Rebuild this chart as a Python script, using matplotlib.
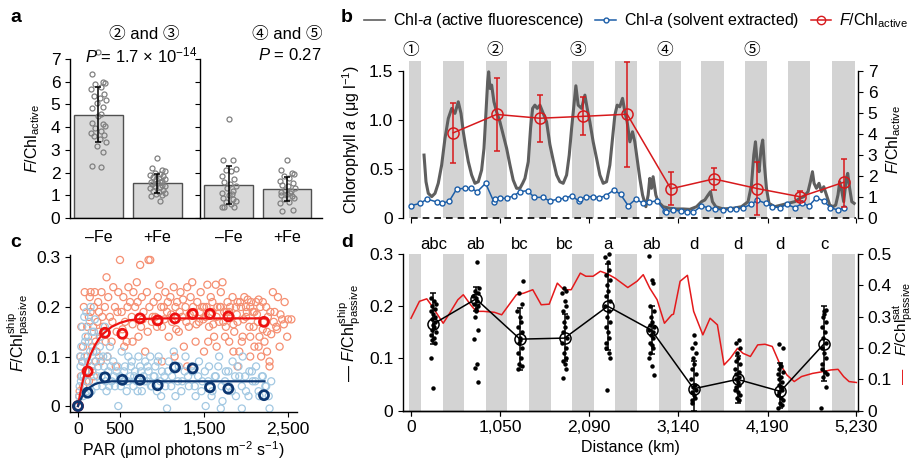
import numpy as np
import matplotlib
matplotlib.use('Agg')
import matplotlib.pyplot as plt
from matplotlib.lines import Line2D

# ---------------- Style ----------------
plt.rcParams['font.family'] = ['Liberation Sans', 'Noto Sans CJK JP', 'DejaVu Sans']
plt.rcParams['mathtext.fontset'] = 'custom'
plt.rcParams['mathtext.rm'] = 'Liberation Sans'
plt.rcParams['mathtext.it'] = 'Liberation Sans:italic'
plt.rcParams['mathtext.bf'] = 'Liberation Sans:bold'
plt.rcParams['font.size'] = 11
plt.rcParams['axes.linewidth'] = 1.0
plt.rcParams['xtick.major.size'] = 3.5
plt.rcParams['ytick.major.size'] = 3.5
TICK = 12.5
LAB = 11.5

# ---------------- Data: panel a ----------------
a_labels = ['\u2013Fe', '+Fe']
a_mean_23 = [4.55, 1.53]
a_lo_23 = [3.35, 1.10]
a_hi_23 = [5.78, 1.95]
a_mean_45 = [1.45, 1.27]
a_lo_45 = [0.63, 0.75]
a_hi_45 = [2.28, 1.80]
a_pts_23_minus = [7.3, 6.35, 6.0, 5.95, 5.9, 5.75, 5.7, 5.45, 5.35, 5.3, 5.2, 5.05, 4.9, 4.85, 4.6,
                  4.5, 4.2, 4.15, 4.05, 3.95, 3.85, 3.75, 3.65, 3.6, 3.5, 3.35, 3.15, 2.9, 2.3, 2.25]
a_pts_23_plus = [2.65, 2.2, 2.1, 2.05, 2.0, 1.95, 1.9, 1.85, 1.8, 1.75, 1.72, 1.7, 1.65, 1.6, 1.58,
                 1.55, 1.5, 1.45, 1.42, 1.4, 1.35, 1.3, 1.25, 1.2, 1.15, 1.1, 1.05, 1.0, 0.95, 0.75]
a_pts_45_minus = [4.38, 2.55, 2.55, 2.15, 2.1, 2.05, 1.85, 1.7, 1.6, 1.5, 1.4, 1.3, 1.2, 1.1, 1.05,
                  1.0, 0.9, 0.85, 0.75, 0.7, 0.6, 0.5, 0.5, 0.48]
a_pts_45_plus = [2.55, 2.1, 2.0, 1.95, 1.85, 1.75, 1.65, 1.55, 1.45, 1.4, 1.3, 1.25, 1.2, 1.15, 1.1,
                 1.05, 1.0, 0.95, 0.9, 0.85, 0.7, 0.65, 0.35, 0.3]
a_jitter = [0.0, -0.1, 0.08, 0.12, -0.05, 0.04, -0.12, 0.1, -0.08, 0.02, 0.13, -0.03, 0.07, -0.11, 0.05]

# ---------------- Data: panel b ----------------
band_start = [-23, 372, 880, 1388, 1893, 2397, 2907, 3411, 3923, 4427, 4944]
band_end = [114, 622, 1130, 1639, 2147, 2655, 3165, 3673, 4186, 4690, 5210]
dist_ticks = [0, 1050, 2090, 3140, 4190, 5230]
dist_ticklabels = ['0', '1,050', '2,090', '3,140', '4,190', '5,230']
station_x = [0, 986, 1960, 2981, 4001]
station_lbl = ['\u2460', '\u2461', '\u2462', '\u2463', '\u2464']

chl_fl_km = [153, 176, 203, 243, 282, 320, 360, 399, 438, 478, 516, 555, 587, 614, 645, 673, 712, 751,
             790, 829, 857, 880, 900, 912, 927, 947, 974, 1005, 1044, 1083, 1123, 1162, 1200, 1240,
             1279, 1311, 1338, 1377, 1404, 1428, 1455, 1482, 1514, 1553, 1592, 1631, 1670, 1710, 1748,
             1787, 1827, 1858, 1886, 1913, 1936, 1963, 2003, 2042, 2069, 2100, 2139, 2179, 2218, 2257,
             2296, 2335, 2367, 2394, 2421, 2452, 2484, 2511, 2538, 2570, 2601, 2628, 2655, 2687, 2719,
             2758, 2785, 2804, 2824, 2843, 2875, 2902, 2961, 3039, 3118, 3196, 3274, 3353, 3411, 3450,
             3489, 3517, 3540, 3579, 3665, 3782, 3881, 3958, 3998, 4025, 4045, 4064, 4087, 4111, 4130,
             4150, 4174, 4204, 4271, 4350, 4427, 4506, 4565, 4612, 4662, 4690, 4714, 4733, 4761, 4791,
             4820, 4847, 4878, 4917, 4956, 4987, 5014, 5034, 5053, 5081, 5112, 5128, 5151, 5176, 5204]
chl_fl_val = [0.643, 0.372, 0.254, 0.22, 0.254, 0.356, 0.542, 0.813, 1.016, 1.118, 1.067, 1.185,
              1.067, 0.88, 0.711, 0.575, 0.44, 0.356, 0.372, 0.49, 0.711, 1.083, 1.388, 1.49, 1.321,
              1.355, 1.185, 1.083, 0.982, 0.847, 0.711, 0.542, 0.389, 0.305, 0.305, 0.356, 0.406,
              0.575, 0.915, 1.118, 1.151, 1.118, 1.151, 1.067, 0.982, 0.75, 0.59, 0.44, 0.372, 0.356,
              0.44, 0.643, 0.915, 1.151, 1.348, 1.151, 1.118, 1.253, 1.118, 0.982, 0.778, 0.61, 0.44,
              0.356, 0.372, 0.542, 0.813, 1.05, 1.151, 1.134, 1.22, 1.083, 0.982, 0.778, 0.88, 0.778,
              0.61, 0.406, 0.237, 0.118, 0.237, 0.406, 0.305, 0.423, 0.237, 0.169, 0.118, 0.102, 0.095,
              0.095, 0.091, 0.118, 0.169, 0.186, 0.237, 0.271, 0.169, 0.118, 0.095, 0.102, 0.118,
              0.169, 0.338, 0.643, 0.778, 0.575, 0.474, 0.711, 0.796, 0.542, 0.305, 0.152, 0.118,
              0.135, 0.152, 0.169, 0.203, 0.22, 0.271, 0.372, 0.474, 0.356, 0.305, 0.356, 0.271, 0.321,
              0.237, 0.135, 0.118, 0.135, 0.237, 0.372, 0.305, 0.169, 0.406, 0.457, 0.305, 0.169, 0.152]

chl_ex_km = [-4, 106, 191, 301, 368, 450, 536, 634, 704, 778, 876, 974, 982, 1044, 1123, 1209, 1279,
             1369, 1447, 1545, 1631, 1729, 1807, 1886, 1971, 1983, 2054, 2132, 2210, 2288, 2382, 2461,
             2550, 2640, 2726, 2796, 2890, 2981, 2992, 3078, 3165, 3242, 3313, 3411, 3489, 3568, 3665,
             3743, 3822, 3900, 3998, 4064, 4166, 4244, 4330, 4416, 4506, 4596, 4674, 4761, 4846, 4925,
             5014, 5081]
chl_ex_val = [0.128, 0.152, 0.196, 0.166, 0.152, 0.176, 0.298, 0.305, 0.305, 0.271, 0.356, 0.166,
              0.196, 0.203, 0.203, 0.23, 0.271, 0.281, 0.213, 0.213, 0.176, 0.196, 0.203, 0.23, 0.176,
              0.193, 0.22, 0.22, 0.209, 0.23, 0.288, 0.244, 0.128, 0.196, 0.152, 0.163, 0.179, 0.074,
              0.061, 0.084, 0.074, 0.067, 0.061, 0.125, 0.108, 0.095, 0.084, 0.091, 0.091, 0.108, 0.142,
              0.186, 0.152, 0.118, 0.108, 0.142, 0.108, 0.152, 0.128, 0.209, 0.176, 0.108, 0.084, 0.108]

fchl_km = [497, 1005, 1514, 2022, 2538, 3051, 3556, 4068, 4573, 5081]
fchl_val = [4.06, 4.93, 4.75, 4.84, 4.94, 1.40, 1.87, 1.41, 1.02, 1.71]
fchl_hi = [5.49, 6.66, 5.83, 5.74, 7.44, 2.18, 2.40, 2.66, 1.30, 2.80]
fchl_lo = [2.63, 3.20, 3.62, 3.95, 2.44, 0.65, 1.33, 0.16, 0.81, 0.55]

# ---------------- Data: panel c ----------------
c_or_par = [20, 35, 50, 60, 40, 70, 80, 100, 110, 120, 130, 140, 150, 160, 170, 180, 190, 200, 210,
            220, 230, 240, 250, 260, 270, 90, 60, 30, 15, 280,
            300, 320, 340, 360, 380, 400, 420, 440, 460, 480, 500, 520, 540, 560, 580, 600, 620, 640,
            660, 680, 700, 720, 740, 760, 780, 800, 820, 840, 860, 880, 900, 350, 450, 550, 650, 750,
            850, 330,
            920, 950, 970, 1000, 1020, 1040, 1060, 1080, 1100, 1120, 1140, 1160, 1180, 1200, 1220, 1240,
            1260, 1280, 1300, 1320, 1340, 1360, 1380, 1400, 1420, 1440, 1460, 1480, 1500, 1520, 1540,
            1560, 1580, 1600, 1620, 1640, 1660, 1680, 1000, 1150, 1300,
            1700, 1720, 1740, 1760, 1780, 1800, 1820, 1840, 1860, 1880, 1900, 1920, 1940, 1960, 1980,
            2000, 2020, 2040, 2060, 2080, 2100, 2120, 2140, 2160, 2180, 2200, 2220, 2240, 2260, 2280,
            2300, 2320, 2340, 2360, 2380, 2400, 2430, 2460, 2500, 2540, 2150, 2050, 1900, 2280]
c_or_val = [0.03, 0.06, 0.09, 0.12, 0.16, 0.2, 0.23, 0.05, 0.1, 0.14, 0.18, 0.22, 0.23, 0.08, 0.12,
            0.16, 0.2, 0.23, 0.13, 0.11, 0.17, 0.21, 0.19, 0.14, 0.09, 0.07, 0.04, 0.1, 0.02, 0.23,
            0.16, 0.2, 0.26, 0.22, 0.18, 0.13, 0.24, 0.2, 0.15, 0.23, 0.295, 0.19, 0.22, 0.17, 0.13,
            0.24, 0.21, 0.18, 0.23, 0.2, 0.25, 0.14, 0.285, 0.22, 0.19, 0.11, 0.23, 0.295, 0.295, 0.17,
            0.21, 0.1, 0.08, 0.12, 0.13, 0.16, 0.2, 0.13,
            0.18, 0.22, 0.245, 0.16, 0.2, 0.23, 0.19, 0.14, 0.22, 0.17, 0.24, 0.2, 0.21, 0.15, 0.23,
            0.18, 0.12, 0.2, 0.24, 0.16, 0.22, 0.25, 0.19, 0.13, 0.21, 0.17, 0.23, 0.2, 0.11, 0.18,
            0.245, 0.16, 0.22, 0.19, 0.14, 0.245, 0.2, 0.17, 0.09, 0.1, 0.08,
            0.23, 0.25, 0.19, 0.16, 0.21, 0.13, 0.18, 0.22, 0.15, 0.2, 0.17, 0.11, 0.2, 0.14, 0.22,
            0.18, 0.215, 0.16, 0.21, 0.19, 0.12, 0.21, 0.17, 0.14, 0.1, 0.155, 0.13, 0.2, 0.18, 0.09,
            0.145, 0.23, 0.19, 0.16, 0.22, 0.12, 0.175, 0.21, 0.175, 0.175, 0.215, 0.1, 0.08, 0.08]
c_or_par2 = [410, 470, 530, 590, 650, 710, 770, 830, 890, 940, 990, 1030, 1070, 1110, 1170, 1210, 1250,
             1290, 1330, 1370, 1410, 1450, 1490, 1530, 1570, 1610, 1650, 1690, 1730, 1770, 1810, 1850,
             1890, 1930, 1970, 2010, 2050, 2090, 2130, 2170, 2210, 2250, 2290, 2330, 2370, 2410, 2450,
             2490, 1550, 1650, 1750, 1850, 1950, 2050, 2150, 2250, 1500, 1600, 1700, 1800, 1900, 2000,
             2100, 2200, 130, 170, 210, 250, 290, 110, 150, 190]
c_or_val2 = [0.17, 0.19, 0.155, 0.2, 0.165, 0.21, 0.175, 0.15, 0.18, 0.16, 0.2, 0.175, 0.21, 0.185,
             0.155, 0.19, 0.215, 0.17, 0.185, 0.2, 0.165, 0.19, 0.175, 0.2, 0.185, 0.165, 0.18, 0.2,
             0.17, 0.19, 0.2, 0.165, 0.185, 0.21, 0.175, 0.19, 0.2, 0.16, 0.185, 0.2, 0.17, 0.15, 0.19,
             0.17, 0.155, 0.185, 0.165, 0.14, 0.13, 0.12, 0.14, 0.11, 0.13, 0.14, 0.12, 0.11, 0.2, 0.21,
             0.2, 0.19, 0.21, 0.2, 0.19, 0.21, 0.05, 0.07, 0.09, 0.15, 0.18, 0.16, 0.19, 0.06]
c_bl_par = [10, 20, 30, 40, 50, 60, 70, 80, 90, 100, 110, 120, 130, 140, 150, 160, 170, 180, 190, 200,
            220, 240, 260, 280, 300, 320, 340, 360, 380, 400, 25, 45, 75, 130,
            420, 440, 460, 480, 500, 520, 540, 560, 580, 600, 620, 640, 660, 680, 700, 720, 740, 760,
            780, 800, 820, 840, 860, 880, 900, 920, 940, 960, 980, 1000, 1040, 1080, 1120, 1160, 1200,
            1240, 1280, 1060, 1140,
            1320, 1360, 1400, 1440, 1480, 1520, 1560, 1600, 1640, 1680, 1720, 1760, 1800, 1840, 1880,
            1920, 1960, 2000, 2040, 2080, 2120, 2160, 2200, 2240, 2280, 2300, 1700, 1950]
c_bl_val = [0.0, 0.04, 0.08, 0.12, 0.16, 0.02, 0.06, 0.1, 0.14, 0.19, 0.05, 0.09, 0.13, 0.17, 0.2,
            0.03, 0.07, 0.11, 0.15, 0.175, 0.04, 0.08, 0.12, 0.06, 0.1, 0.16, 0.03, 0.07, 0.12, 0.05,
            0.1, 0.06, 0.18, 0.07,
            0.09, 0.04, 0.07, 0.0, 0.06, 0.11, 0.05, 0.08, 0.03, 0.1, 0.06, 0.09, 0.04, 0.07, 0.05, 0.1,
            0.08, 0.03, 0.06, 0.09, 0.05, 0.07, 0.1, 0.04, 0.06, 0.08, 0.03, 0.1, 0.05, 0.07, 0.04,
            0.09, 0.06, 0.02, 0.08, 0.05, 0.1, -0.005, 0.11,
            0.04, 0.07, 0.02, 0.09, 0.05, 0.0, 0.08, 0.03, 0.06, 0.1, 0.01, 0.07, 0.04, 0.09, 0.02,
            0.06, 0.1, 0.03, 0.07, 0.05, 0.08, 0.02, 0.06, 0.04, -0.005, 0.05, -0.005, -0.005]
c_bl_par2 = [15, 35, 55, 85, 105, 125, 145, 165, 185, 205, 230, 250, 270, 290, 310, 330, 350, 370, 390,
             430, 470, 510, 550, 590, 630, 670, 710, 750, 790, 830, 870, 910, 950, 990, 1030, 1070,
             1110, 1150, 1190, 1230, 1270, 1310, 1350, 1390, 1430, 1470, 1510, 1550, 1590, 1630, 1670,
             1710, 1750, 1790, 1830, 1870, 1910, 1950, 1990, 2030, 2070, 2110, 2150, 2190, 2230, 2270]
c_bl_val2 = [0.02, 0.05, 0.09, 0.13, 0.03, 0.07, 0.11, 0.15, 0.05, 0.09, 0.06, 0.1, 0.14, 0.04, 0.08,
             0.05, 0.1, 0.04, 0.08, 0.06, 0.08, 0.04, 0.07, 0.05, 0.08, 0.06, 0.03, 0.07, 0.05, 0.08,
             0.04, 0.06, 0.09, 0.02, 0.06, 0.07, 0.04, 0.08, 0.05, 0.03, 0.07, 0.06, 0.08, 0.04, 0.06,
             0.03, 0.07, 0.05, 0.02, 0.06, 0.08, 0.04, 0.05, 0.07, 0.03, 0.06, 0.08, 0.04, 0.06, 0.02,
             0.07, 0.05, 0.03, 0.06, 0.04, 0.02]
c_bin_par = [0, 115, 321, 528, 738, 948, 1155, 1365, 1571, 1790, 2214]
c_bin_red = [0.0, 0.070, 0.148, 0.146, 0.177, 0.173, 0.177, 0.186, 0.186, 0.181, 0.170]
c_bin_blue = [0.0, 0.027, 0.058, 0.053, 0.053, 0.042, 0.078, 0.076, 0.038, 0.035, 0.022]
c_fit_red_x = [0, 25, 50, 75, 100, 150, 200, 250, 300, 400, 500, 600, 700, 800, 1000, 2220]
c_fit_red_y = [0, 0.024, 0.045, 0.063, 0.079, 0.104, 0.122, 0.136, 0.146, 0.16, 0.168, 0.173, 0.175,
               0.176, 0.177, 0.177]
c_fit_blue_x = [0, 25, 50, 75, 100, 150, 200, 250, 300, 400, 500, 2220]
c_fit_blue_y = [0, 0.011, 0.02, 0.027, 0.032, 0.039, 0.044, 0.047, 0.048, 0.05, 0.05, 0.05]

# ---------------- Data: panel d ----------------
d_km = [262, 763, 1280, 1803, 2310, 2825, 3319, 3834, 4338, 4850]
d_mean = [0.166, 0.214, 0.137, 0.139, 0.200, 0.154, 0.042, 0.060, 0.037, 0.128]
d_hi = [0.225, 0.237, 0.196, 0.185, 0.281, 0.200, 0.095, 0.105, 0.091, 0.200]
d_lo = [0.128, 0.190, 0.077, 0.095, 0.116, 0.108, 0.0, 0.014, 0.006, 0.056]
d_letters = ['abc', 'ab', 'bc', 'bc', 'a', 'ab', 'd', 'd', 'd', 'c']
d_pts = [
    [0.215, 0.21, 0.205, 0.2, 0.195, 0.19, 0.185, 0.18, 0.175, 0.17, 0.165, 0.16, 0.155, 0.15, 0.145,
     0.14, 0.135, 0.13, 0.1, 0.043],
    [0.285, 0.235, 0.23, 0.225, 0.22, 0.215, 0.21, 0.205, 0.2, 0.195, 0.19, 0.18, 0.155, 0.138, 0.09,
     0.082, 0.055],
    [0.248, 0.225, 0.205, 0.19, 0.18, 0.17, 0.16, 0.15, 0.14, 0.135, 0.13, 0.12, 0.11, 0.1, 0.09,
     0.085, 0.08],
    [0.235, 0.23, 0.225, 0.21, 0.2, 0.19, 0.18, 0.17, 0.16, 0.15, 0.14, 0.13, 0.12, 0.11, 0.1, 0.095,
     0.09, 0.08, 0.063],
    [0.3, 0.295, 0.285, 0.27, 0.26, 0.25, 0.24, 0.23, 0.22, 0.21, 0.2, 0.19, 0.18, 0.17, 0.16, 0.15,
     0.14, 0.13, 0.12, 0.11, 0.1, 0.04],
    [0.297, 0.25, 0.245, 0.2, 0.19, 0.18, 0.17, 0.165, 0.16, 0.155, 0.15, 0.145, 0.14, 0.13, 0.125,
     0.12, 0.11, 0.1, 0.085, 0.068],
    [0.145, 0.13, 0.12, 0.11, 0.1, 0.09, 0.08, 0.07, 0.06, 0.05, 0.045, 0.04, 0.035, 0.03, 0.025, 0.02,
     0.015],
    [0.135, 0.13, 0.12, 0.11, 0.1, 0.095, 0.09, 0.08, 0.075, 0.07, 0.065, 0.06, 0.055, 0.05, 0.045,
     0.04, 0.035, 0.03, 0.025, 0.02],
    [0.127, 0.12, 0.09, 0.085, 0.08, 0.075, 0.07, 0.065, 0.06, 0.055, 0.05, 0.045, 0.04, 0.035, 0.03,
     0.025, 0.02, 0.015, 0.01, 0.005],
    [0.193, 0.19, 0.185, 0.18, 0.17, 0.16, 0.15, 0.14, 0.13, 0.12, 0.11, 0.1, 0.09, 0.08, 0.075, 0.07,
     0.065, 0.045, 0.005],
]
d_jitter = [-25, 10, 30, -10, 20, -30, 0, 15, -20, 25, -5, 5, -15, 28, -28, 12, -12, 22, -22, 2, 18, -18]
sat_km = [0, 99, 185, 249, 301, 378, 442, 550, 614, 700, 764, 850, 979, 1065, 1151, 1237, 1323, 1430,
          1529, 1623, 1718, 1795, 1881, 1988, 2053, 2138, 2224, 2310, 2396, 2546, 2654, 2727, 2804,
          2890, 2976, 3062, 3083, 3160, 3246, 3319, 3427, 3512, 3598, 3676, 3749, 3834, 3899, 3985,
          4071, 4157, 4242, 4328, 4414, 4500, 4586, 4715, 4844, 4929, 5015, 5080, 5144, 5230]
sat_val = [0.295, 0.349, 0.357, 0.333, 0.311, 0.279, 0.306, 0.354, 0.37, 0.338, 0.317, 0.317, 0.314,
           0.306, 0.338, 0.37, 0.375, 0.386, 0.338, 0.34, 0.407, 0.386, 0.386, 0.439, 0.429, 0.429,
           0.445, 0.436, 0.423, 0.393, 0.413, 0.434, 0.391, 0.354, 0.279, 0.306, 0.308, 0.413, 0.432,
           0.317, 0.242, 0.295, 0.274, 0.146, 0.167, 0.199, 0.183, 0.173, 0.21, 0.212, 0.205, 0.151,
           0.114, 0.093, 0.109, 0.119, 0.125, 0.13, 0.132, 0.109, 0.093, 0.09]

# ---------------- Colours ----------------
BAND = '#d3d3d3'
GRAY = '#5f5f5f'
BLUE = '#1c5ea8'
RED = '#d7191c'
SALMON = '#f58f72'
LBLUE = '#a2c8e2'
NAVY = '#0c3772'

W, H = 914, 461
fig = plt.figure(figsize=(W / 100, H / 100), dpi=100)


def px_axes(x0, x1, ytop, ybot):
    return fig.add_axes([x0 / W, 1 - ybot / H, (x1 - x0) / W, (ybot - ytop) / H])


F_ACT = r'$\mathit{F}$/Chl$_{\mathrm{active}}$'
F_SHIP = r'$\mathit{F}$/Chl$^{\mathrm{ship}}_{\mathrm{passive}}$'
F_SAT = r'$\mathit{F}$/Chl$^{\mathrm{sat}}_{\mathrm{passive}}$'
XMIN, XMAX = -94, 5249

# ---------------- Panel a ----------------
axa1 = px_axes(70, 200, 59, 218)
axa2 = px_axes(200, 322, 59, 218)
groups = [(axa1, a_mean_23, a_lo_23, a_hi_23, [a_pts_23_minus, a_pts_23_plus]),
          (axa2, a_mean_45, a_lo_45, a_hi_45, [a_pts_45_minus, a_pts_45_plus])]
for ax, mean, lo, hi, pts in groups:
    xs = np.arange(2)
    ax.bar(xs, mean, width=0.83, color='#d9d9d9', edgecolor='#505050', linewidth=1.0, zorder=1)
    for i, p in enumerate(pts):
        jx = [i + a_jitter[k % len(a_jitter)] for k in range(len(p))]
        ax.plot(jx, p, 'o', ms=3.6, mfc='none', mec='#808080', mew=0.9, zorder=2, clip_on=False)
    ax.errorbar(xs, mean, yerr=[np.array(mean) - np.array(lo), np.array(hi) - np.array(mean)],
                fmt='none', ecolor='black', elinewidth=1.1, capsize=2.2, capthick=1.1, zorder=3)
    ax.set_ylim(0, 7)
    ax.set_yticks(range(8))
    ax.set_xticks([])
    for s in ['top', 'right']:
        ax.spines[s].set_visible(False)
    ax.tick_params(axis='y', direction='out', labelsize=TICK)
    for i, lbl in enumerate(a_labels):
        ax.text(i, -0.55, lbl, ha='center', va='top', fontsize=LAB)
axa1.set_xlim(-0.48, 1.72)
axa2.set_xlim(-0.49, 1.6)
axa2.tick_params(axis='y', labelleft=False)
axa1.set_ylabel(F_ACT, fontsize=LAB, labelpad=6)
axa1.text(0.57, 1.155, '\u2461 and \u2462', transform=axa1.transAxes, ha='center', va='center', fontsize=12)
axa1.text(0.55, 1.025, r'$\mathit{P}$ = 1.7 × 10$^{-14}$', transform=axa1.transAxes, ha='center',
          va='center', fontsize=12)
axa2.text(1.0, 1.155, '\u2463 and \u2464', transform=axa2.transAxes, ha='right', va='center', fontsize=12)
axa2.text(1.0, 1.025, r'$\mathit{P}$ = 0.27', transform=axa2.transAxes, ha='right', va='center', fontsize=12)

# ---------------- Panel b ----------------
axb = px_axes(403, 858, 61, 218.3)
for s0, s1 in zip(band_start, band_end):
    axb.axvspan(s0, s1, color=BAND, lw=0, zorder=0)
axb.plot(chl_fl_km, chl_fl_val, color=GRAY, lw=2.2, zorder=2)
axb.plot(chl_ex_km, chl_ex_val, '-o', color=BLUE, lw=1.1, ms=3.6, mfc='white', mec=BLUE, mew=1.0, zorder=3)
axb.plot([dist_ticks[0], dist_ticks[-1]], [0, 0], color='black', lw=1.2, ls=(0, (4, 3)), zorder=4, clip_on=False)
axb.set_xlim(XMIN, XMAX)
axb.set_ylim(0, 1.6)
axb.set_yticks([0, 0.5, 1.0, 1.5])
axb.set_yticklabels(['0', '0.5', '1.0', '1.5'])
axb.set_xticks(dist_ticks)
axb.tick_params(axis='x', labelbottom=False)
axb.tick_params(axis='y', labelsize=TICK)
axb.spines['top'].set_visible(False)
axb.spines['bottom'].set_visible(False)
axb.spines['right'].set_visible(False)
axb.spines['left'].set_bounds(0, 1.5)
axb.set_ylabel(r'Chlorophyll $\mathit{a}$ (μg l$^{-1}$)', fontsize=LAB, labelpad=5)
for xs, lbl in zip(station_x, station_lbl):
    axb.text(xs, 1.065, lbl, transform=axb.get_xaxis_transform(), ha='center', va='center', fontsize=12)

axb2 = axb.twinx()
axb2.errorbar(fchl_km, fchl_val,
              yerr=[np.array(fchl_val) - np.array(fchl_lo), np.array(fchl_hi) - np.array(fchl_val)],
              fmt='-o', color=RED, lw=1.1, ms=8, mfc='none', mec=RED, mew=1.1, ecolor=RED,
              elinewidth=1.1, capsize=2.5, capthick=1.1, zorder=5)
axb2.set_ylim(0, 7.467)
axb2.set_yticks(range(8))
axb2.spines['top'].set_visible(False)
axb2.spines['bottom'].set_visible(False)
axb2.spines['left'].set_visible(False)
axb2.spines['right'].set_bounds(0, 7)
axb2.tick_params(axis='y', labelsize=TICK)
axb2.set_ylabel(F_ACT, fontsize=LAB, labelpad=5)

handles = [Line2D([], [], color=GRAY, lw=1.2),
           Line2D([], [], color=BLUE, lw=1.1, marker='o', ms=3.5, mfc='white', mec=BLUE),
           Line2D([], [], color=RED, lw=1.1, marker='o', ms=6, mfc='none', mec=RED)]
fig.legend(handles, [r'Chl-$\mathit{a}$ (active fluorescence)', r'Chl-$\mathit{a}$ (solvent extracted)', F_ACT],
           loc='center left', bbox_to_anchor=(364 / W, 1 - 21 / H), ncol=3, frameon=False,
           fontsize=LAB, handlelength=1.3, handletextpad=0.5, columnspacing=0.7, borderaxespad=0,
           borderpad=0)

# ---------------- Panel c ----------------
axc = px_axes(70, 297, 255, 412)
axc.scatter(c_or_par + c_or_par2, c_or_val + c_or_val2, s=26, facecolors='none', edgecolors=SALMON,
            linewidths=0.9, zorder=1)
axc.scatter(c_bl_par + c_bl_par2, c_bl_val + c_bl_val2, s=26, facecolors='none', edgecolors=LBLUE,
            linewidths=0.9, zorder=1)
axc.plot(c_fit_red_x, c_fit_red_y, color='#ee1111', lw=1.6, zorder=3)
axc.plot(c_fit_blue_x, c_fit_blue_y, color=NAVY, lw=1.6, zorder=3)
axc.scatter(c_bin_par, c_bin_red, s=42, facecolors='none', edgecolors='#ee1111', linewidths=2.0, zorder=4)
axc.scatter(c_bin_par, c_bin_blue, s=42, facecolors='none', edgecolors=NAVY, linewidths=2.0, zorder=4)
axc.set_xlim(-95, 2607)
axc.set_ylim(-0.012, 0.305)
axc.set_xticks([0, 500, 1500, 2500])
axc.set_xticklabels(['0', '500', '1,500', '2,500'])
axc.set_yticks([0, 0.1, 0.2, 0.3])
axc.set_yticklabels(['0', '0.1', '0.2', '0.3'])
axc.tick_params(labelsize=TICK)
axc.spines['top'].set_visible(False)
axc.spines['right'].set_visible(False)
axc.set_ylabel(F_SHIP, fontsize=LAB, labelpad=3)
axc.set_xlabel(r'PAR (μmol photons m$^{-2}$ s$^{-1}$)', fontsize=LAB, labelpad=2)

# ---------------- Panel d ----------------
axd2 = px_axes(403, 858, 254, 410.7)
axd = fig.add_axes(axd2.get_position(), sharex=axd2)
axd2.yaxis.tick_right()
for s0, s1 in zip(band_start, band_end):
    axd2.axvspan(s0, s1, color=BAND, lw=0, zorder=0)
axd2.plot(sat_km, sat_val, color='#e41a1c', lw=1.1, zorder=2)
axd2.set_ylim(0, 0.5)
axd2.set_yticks([0, 0.1, 0.2, 0.3, 0.4, 0.5])
axd2.set_yticklabels(['0', '0.1', '0.2', '0.3', '0.4', '0.5'])
axd2.tick_params(axis='y', labelsize=TICK)
axd2.tick_params(axis='x', labelbottom=False)
axd2.spines['top'].set_visible(False)
axd2.spines['left'].set_visible(False)
axd2.text(1.1, 0.585, F_SAT, transform=axd2.transAxes, rotation=90, ha='center', va='center', fontsize=11)
fig.text(903.5 / W, 1 - 376 / H, '\u2014', rotation=90, ha='center', va='center', fontsize=11, color='#e41a1c')

axd.patch.set_visible(False)
for i, (xk, p) in enumerate(zip(d_km, d_pts)):
    jx = [xk + d_jitter[(k + i) % len(d_jitter)] for k in range(len(p))]
    axd.plot(jx, p, 'o', ms=2.2, color='black', zorder=2, clip_on=False)
axd.errorbar(d_km, d_mean, yerr=[np.array(d_mean) - np.array(d_lo), np.array(d_hi) - np.array(d_mean)],
             fmt='-o', color='black', lw=1.1, ms=8, mfc='none', mec='black', mew=1.1, ecolor='black',
             elinewidth=1.1, capsize=2.5, capthick=1.1, zorder=3)
for xk, lt in zip(d_km, d_letters):
    axd.text(xk, 1.015, lt, transform=axd.get_xaxis_transform(), ha='center', va='bottom', fontsize=12)
axd.set_xlim(XMIN, XMAX)
axd.set_ylim(0, 0.3)
axd.set_yticks([0, 0.1, 0.2, 0.3])
axd.set_yticklabels(['0', '0.1', '0.2', '0.3'])
axd.set_xticks(dist_ticks)
axd.set_xticklabels(dist_ticklabels)
axd.tick_params(labelsize=TICK)
axd.spines['top'].set_visible(False)
axd.spines['right'].set_visible(False)
axd.set_ylabel('\u2014 ' + F_SHIP, fontsize=LAB, labelpad=4)
axd.set_xlabel('Distance (km)', fontsize=LAB, labelpad=3)

# ---------------- Panel letters ----------------
for xp, yp, lt in [(10, 18, 'a'), (341, 18, 'b'), (10, 242, 'c'), (341, 242, 'd')]:
    fig.text(xp / W, 1 - yp / H, lt, fontsize=14, fontweight='bold', ha='left', va='center')

fig.savefig('out.png', dpi=100)
